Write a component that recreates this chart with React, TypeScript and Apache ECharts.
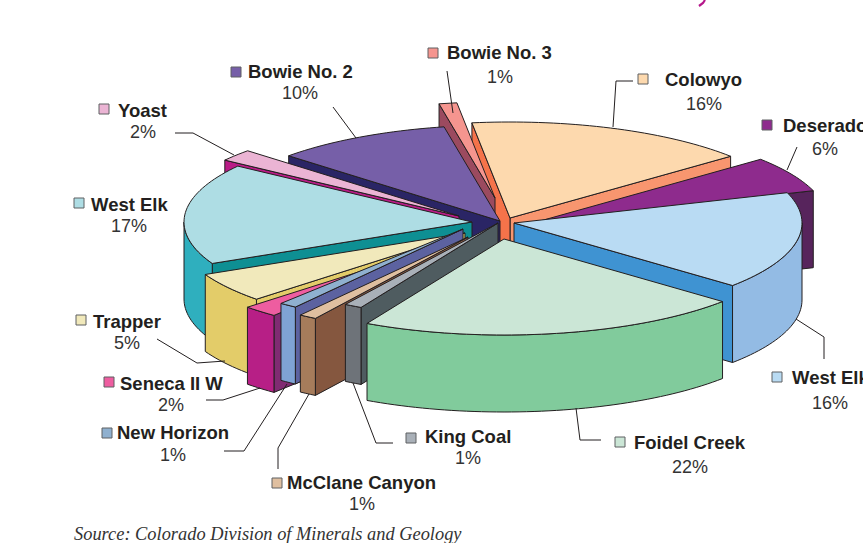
import React, { useEffect, useRef } from "react";
import * as echarts from "echarts";

// Data, clockwise from the top of the pie (shares; labels show them rounded)
const categories = ["Colowyo", "Deserado", "West Elk", "Foidel Creek", "King Coal", "McClane Canyon", "New Horizon", "Seneca II W", "Trapper", "West Elk", "Yoast", "Bowie No. 2", "Bowie No. 3"];
const shares = [16, 6, 16.4, 21.6, 1, 1, 1, 2, 5, 17, 2, 10, 1];
const sourceNote = "Source: Colorado Division of Minerals and Geology";

// Colours: top, outer wall, cut face at the slice's start, cut face at its end
const topColors = ["#FDD9AE", "#8E2B8D", "#B9DBF3", "#CBE6D6", "#A9B0B8", "#DFBFA0", "#8FB0CF", "#EE5DA0", "#F1E9BB", "#AEDDE4", "#EBB4D4", "#765FA8", "#F5958F"];
const wallColors = ["#F8966F", "#57245C", "#93BBE4", "#81CB9C", "#6E7379", "#A67C5B", "#7FA3D4", "#B71F86", "#E3CC69", "#2FAFBE", "#B91C87", "#2A2565", "#9B4A5F"];
const startCutColors = ["#F5734A", "#57245C", "#3F93D2", "#81CB9C", "#4F5C60", "#85573F", "#5C62A0", "#802B72", "#E3CC69", "#0E8F93", "#B91C87", "#2A2565", "#9B4A5F"];
const endCutColors = ["#F8966F", "#57245C", "#3F93D2", "#81CB9C", "#4F5C60", "#85573F", "#5C62A0", "#802B72", "#E3CC69", "#0E8F93", "#B91C87", "#2A2565", "#9B4A5F"];
const swatchColors = ["#FDD9AE", "#8E2B8D", "#B9DBF3", "#CBE6D6", "#A9B0B8", "#DFBFA0", "#8FB0CF", "#EE5DA0", "#F1E9BB", "#AEDDE4", "#EBB4D4", "#765FA8", "#F5958F"];

// Layout of the exploded pie
const apexes = [[510, 218], [540, 221], [514, 223], [504, 239], [498, 223], [468, 237], [463, 229], [456, 241], [465, 233], [472, 222], [459, 216], [500, 221], [495, 198]];
const paintOrder = [0, 12, 11, 10, 1, 9, 8, 7, 6, 5, 4, 2, 3];
const RX = 288, RY = 96, DEPTH = 77, FIRST_ANGLE = 97.6;
const EDGE = "#231F20";

// Layout of the labels: swatch x/y, name x/y, percent x/y, leader points
const labelLayout = [
  { sw: [638, 74], name: [665, 79], pct: [704, 104], lead: [[633, 81], [616, 81], [613, 127]] },
  { sw: [762, 120], name: [783, 125], pct: [825, 149], lead: [[797, 147], [787, 170]] },
  { sw: [772, 372], name: [792, 377], pct: [830, 403], lead: [[824, 359], [824, 337], [796, 319]] },
  { sw: [615, 437], name: [634, 442], pct: [690, 467], lead: [[601, 440], [580, 440], [576, 408]] },
  { sw: [406, 433], name: [425, 436], pct: [468, 458], lead: [[393, 443], [376, 443], [353, 383]] },
  { sw: [272, 478], name: [287, 482], pct: [362, 504], lead: [[278, 469], [278, 448], [309, 394]] },
  { sw: [102, 428], name: [117, 432], pct: [173, 455], lead: [[224, 451], [244, 451], [287, 384]] },
  { sw: [104, 377], name: [120, 383], pct: [171, 405], lead: [[206, 400], [223, 400], [260, 388]] },
  { sw: [76, 315], name: [93, 321], pct: [127, 343], lead: [[157, 339], [197, 363], [225, 361]] },
  { sw: [74, 198], name: [91, 204], pct: [129, 226], lead: [] },
  { sw: [99, 104], name: [118, 110], pct: [143, 132], lead: [[175, 133], [193, 133], [234, 155]] },
  { sw: [231, 67], name: [248, 71], pct: [300, 93], lead: [[333, 107], [356, 138]] },
  { sw: [428, 48], name: [447, 52], pct: [500, 77], lead: [[447, 71], [453, 113]] },
];

const total = shares.reduce((a, b) => a + b, 0);

function sliceAngles(i: number) {
  let start = FIRST_ANGLE;
  for (let k = 0; k < i; k++) start -= (shares[k] / total) * 360;
  return { start, end: start - (shares[i] / total) * 360 };
}

function point(i: number, deg: number, drop = 0) {
  const r = (deg * Math.PI) / 180;
  return [apexes[i][0] + RX * Math.cos(r), apexes[i][1] - RY * Math.sin(r) + drop];
}

function arc(i: number, from: number, to: number, drop = 0) {
  const n = Math.max(2, Math.ceil(Math.abs(from - to) / 1.5));
  const pts: number[][] = [];
  for (let k = 0; k <= n; k++) pts.push(point(i, from + ((to - from) * k) / n, drop));
  return pts;
}

function poly(points: number[][], fill: string, z2: number) {
  return {
    type: "polygon",
    z2,
    shape: { points },
    style: { fill, stroke: EDGE, lineWidth: 1, lineJoin: "round" },
  };
}

function renderSlice(_params: any, api: any) {
  const i = api.value(0) as number;
  const paint = api.value(1) as number;
  const { start, end } = sliceAngles(i);
  const [ax, ay] = apexes[i];
  const base = paint * 10;
  const children: any[] = [];

  // Cut faces, seen only when they turn towards the viewer
  const cut = (deg: number, fill: string, z: number) => {
    const [x, y] = point(i, deg);
    children.push(poly([[ax, ay], [x, y], [x, y + DEPTH], [ax, ay + DEPTH]], fill, z));
  };
  if (Math.cos((end * Math.PI) / 180) > 0) cut(end, endCutColors[i], base + 1);
  if (Math.cos((start * Math.PI) / 180) < 0) cut(start, startCutColors[i], base + 2);

  // Outer wall on the front half of the rim
  const from = Math.min(start, 0);
  const to = Math.max(end, -180);
  if (from > to) {
    const upper = arc(i, from, to);
    const lower = arc(i, to, from, DEPTH);
    children.push(poly([...upper, ...lower], wallColors[i], base + 3));
  }

  // Top face
  children.push(poly([[ax, ay], ...arc(i, start, end)], topColors[i], base + 4));
  return { type: "group", children };
}

function buildGraphics() {
  const out: any[] = [];
  categories.forEach((name, i) => {
    const l = labelLayout[i];
    out.push({
      type: "rect",
      shape: { x: l.sw[0], y: l.sw[1], width: 10, height: 10 },
      style: { fill: swatchColors[i], stroke: "#5F6062", lineWidth: 1 },
      z: 20,
    });
    out.push({
      type: "text",
      z: 20,
      style: { text: name, x: l.name[0], y: l.name[1], fill: "#231F20", font: "bold 18.5px 'Liberation Sans'", textAlign: "left", textVerticalAlign: "middle" },
    });
    out.push({
      type: "text",
      z: 20,
      style: { text: `${Math.round(shares[i])}%`, x: l.pct[0], y: l.pct[1], fill: "#333333", font: "18px 'Liberation Sans'", textAlign: "center", textVerticalAlign: "middle" },
    });
    if (l.lead.length) {
      out.push({
        type: "polyline",
        z: 20,
        shape: { points: l.lead },
        style: { fill: "none", stroke: EDGE, lineWidth: 1 },
      });
    }
  });
  out.push({
    type: "text",
    z: 20,
    style: { text: sourceNote, x: 74, y: 534, fill: "#333333", font: "italic 18.4px 'Liberation Serif'", textAlign: "left", textVerticalAlign: "middle" },
  });
  // Tail of a cropped magenta heading at the top edge
  out.push({
    type: "polyline",
    z: 20,
    shape: { points: [[705, 0], [703, 3], [699, 6]] },
    style: { fill: "none", stroke: "#B5178B", lineWidth: 2.2 },
  });
  return out;
}

export default function App() {
  const ref = useRef<HTMLDivElement>(null);
  useEffect(() => {
    document.body.style.margin = "0";
    document.body.style.overflow = "hidden";
    const chart = echarts.init(ref.current!, undefined, { renderer: "svg" });
    chart.setOption({
      animation: false,
      backgroundColor: "#FFFFFF",
      graphic: buildGraphics(),
      series: [
        {
          type: "custom",
          coordinateSystem: "none",
          silent: true,
          renderItem: renderSlice,
          data: paintOrder.map((slice, paint) => [slice, paint, shares[slice]]),
        },
      ],
    });
    return () => chart.dispose();
  }, []);
  return <div ref={ref} style={{ position: "absolute", left: 0, top: 0, width: 863, height: 543, overflow: "hidden" }} />;
}
